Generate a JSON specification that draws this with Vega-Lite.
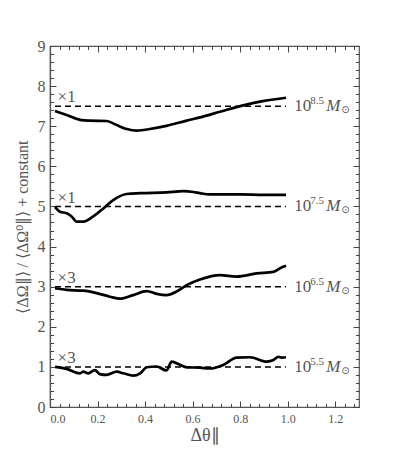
{
  "$schema": "https://vega.github.io/schema/vega-lite/v6.json",
  "width": 309,
  "height": 361,
  "autosize": {"type": "none"},
  "padding": {"left": 50, "top": 46, "right": 40, "bottom": 58},
  "background": "white",
  "config": {
    "view": {"stroke": "#555", "strokeWidth": 1.2},
    "font": "Liberation Serif",
    "axis": {"grid": false, "domainColor": "#555", "tickColor": "#444", "labelColor": "#555", "titleColor": "#555", "labelFont": "Liberation Serif", "titleFont": "Liberation Serif", "titleFontWeight": "normal", "domainWidth": 1.2, "tickWidth": 1}
  },
  "datasets": {
    "curves": [
      {"s": "8.5", "x": 0.021, "y": 7.38}, {"s": "8.5", "x": 0.07, "y": 7.28}, {"s": "8.5", "x": 0.126, "y": 7.16}, {"s": "8.5", "x": 0.168, "y": 7.14}, {"s": "8.5", "x": 0.238, "y": 7.13}, {"s": "8.5", "x": 0.28, "y": 7.03}, {"s": "8.5", "x": 0.323, "y": 6.93}, {"s": "8.5", "x": 0.365, "y": 6.89}, {"s": "8.5", "x": 0.42, "y": 6.93}, {"s": "8.5", "x": 0.49, "y": 7.01}, {"s": "8.5", "x": 0.575, "y": 7.14}, {"s": "8.5", "x": 0.631, "y": 7.22}, {"s": "8.5", "x": 0.715, "y": 7.36}, {"s": "8.5", "x": 0.813, "y": 7.52}, {"s": "8.5", "x": 0.9, "y": 7.63}, {"s": "8.5", "x": 0.993, "y": 7.71},
      {"s": "7.5", "x": 0.021, "y": 4.99}, {"s": "7.5", "x": 0.042, "y": 4.87}, {"s": "7.5", "x": 0.07, "y": 4.83}, {"s": "7.5", "x": 0.091, "y": 4.75}, {"s": "7.5", "x": 0.112, "y": 4.62}, {"s": "7.5", "x": 0.14, "y": 4.62}, {"s": "7.5", "x": 0.182, "y": 4.75}, {"s": "7.5", "x": 0.224, "y": 4.95}, {"s": "7.5", "x": 0.266, "y": 5.16}, {"s": "7.5", "x": 0.323, "y": 5.31}, {"s": "7.5", "x": 0.379, "y": 5.33}, {"s": "7.5", "x": 0.49, "y": 5.35}, {"s": "7.5", "x": 0.561, "y": 5.38}, {"s": "7.5", "x": 0.603, "y": 5.36}, {"s": "7.5", "x": 0.631, "y": 5.33}, {"s": "7.5", "x": 0.673, "y": 5.3}, {"s": "7.5", "x": 0.8, "y": 5.3}, {"s": "7.5", "x": 0.9, "y": 5.29}, {"s": "7.5", "x": 0.993, "y": 5.29},
      {"s": "6.5", "x": 0.021, "y": 2.96}, {"s": "6.5", "x": 0.07, "y": 2.92}, {"s": "6.5", "x": 0.14, "y": 2.9}, {"s": "6.5", "x": 0.196, "y": 2.84}, {"s": "6.5", "x": 0.252, "y": 2.75}, {"s": "6.5", "x": 0.294, "y": 2.7}, {"s": "6.5", "x": 0.35, "y": 2.79}, {"s": "6.5", "x": 0.407, "y": 2.89}, {"s": "6.5", "x": 0.449, "y": 2.82}, {"s": "6.5", "x": 0.49, "y": 2.79}, {"s": "6.5", "x": 0.533, "y": 2.88}, {"s": "6.5", "x": 0.575, "y": 3.04}, {"s": "6.5", "x": 0.631, "y": 3.18}, {"s": "6.5", "x": 0.715, "y": 3.29}, {"s": "6.5", "x": 0.785, "y": 3.25}, {"s": "6.5", "x": 0.87, "y": 3.33}, {"s": "6.5", "x": 0.94, "y": 3.37}, {"s": "6.5", "x": 0.968, "y": 3.46}, {"s": "6.5", "x": 0.993, "y": 3.52},
      {"s": "5.5", "x": 0.021, "y": 1.0}, {"s": "5.5", "x": 0.07, "y": 0.95}, {"s": "5.5", "x": 0.126, "y": 0.84}, {"s": "5.5", "x": 0.14, "y": 0.88}, {"s": "5.5", "x": 0.161, "y": 0.84}, {"s": "5.5", "x": 0.189, "y": 0.92}, {"s": "5.5", "x": 0.21, "y": 0.82}, {"s": "5.5", "x": 0.238, "y": 0.8}, {"s": "5.5", "x": 0.28, "y": 0.88}, {"s": "5.5", "x": 0.309, "y": 0.84}, {"s": "5.5", "x": 0.35, "y": 0.78}, {"s": "5.5", "x": 0.379, "y": 0.84}, {"s": "5.5", "x": 0.407, "y": 0.99}, {"s": "5.5", "x": 0.449, "y": 1.01}, {"s": "5.5", "x": 0.49, "y": 0.91}, {"s": "5.5", "x": 0.512, "y": 1.13}, {"s": "5.5", "x": 0.547, "y": 1.05}, {"s": "5.5", "x": 0.575, "y": 0.99}, {"s": "5.5", "x": 0.631, "y": 0.98}, {"s": "5.5", "x": 0.673, "y": 0.96}, {"s": "5.5", "x": 0.729, "y": 1.05}, {"s": "5.5", "x": 0.785, "y": 1.23}, {"s": "5.5", "x": 0.841, "y": 1.24}, {"s": "5.5", "x": 0.912, "y": 1.13}, {"s": "5.5", "x": 0.94, "y": 1.17}, {"s": "5.5", "x": 0.961, "y": 1.25}, {"s": "5.5", "x": 0.975, "y": 1.23}, {"s": "5.5", "x": 0.993, "y": 1.24}
    ],
    "levels": [
      {"s": "8.5", "level": 7.5, "x0": 0.021, "x1": 0.993, "mult": "×1", "ly": 7.72},
      {"s": "7.5", "level": 5.0, "x0": 0.021, "x1": 0.993, "mult": "×1", "ly": 5.22},
      {"s": "6.5", "level": 3.0, "x0": 0.021, "x1": 0.993, "mult": "×3", "ly": 3.22},
      {"s": "5.5", "level": 1.0, "x0": 0.021, "x1": 0.993, "mult": "×3", "ly": 1.22}
    ]
  },
  "resolve": {"axis": {"x": "independent", "y": "independent"}},
  "layer": [
    {
      "data": {"name": "curves"},
      "mark": {"type": "line", "color": "black", "strokeWidth": 2.7, "interpolate": "monotone"},
      "encoding": {
        "x": {"field": "x", "type": "quantitative", "scale": {"domain": [0, 1.3], "nice": false, "zero": false},
              "axis": {"orient": "bottom", "values": [0, 0.2, 0.4, 0.6, 0.8, 1.0, 1.2], "format": ".1f", "tickSize": -6, "labelPadding": 12, "labelFontSize": 12, "title": "Δθ∥", "titleFontSize": 18, "titlePadding": 2}},
        "y": {"field": "y", "type": "quantitative", "scale": {"domain": [0, 9], "nice": false, "zero": false},
              "axis": {"orient": "left", "values": [0, 1, 2, 3, 4, 5, 6, 7, 8, 9], "format": "d", "tickSize": -6, "labelPadding": 11, "labelFontSize": 16, "title": "⟨ΔΩ∥⟩ / ⟨ΔΩ⁰∥⟩ + constant", "titleFontSize": 16, "titlePadding": 7}},
        "detail": {"field": "s", "type": "nominal"}
      }
    },
    {
      "data": {"name": "levels"},
      "mark": {"type": "rule", "color": "black", "strokeWidth": 1.5, "strokeDash": [6, 4]},
      "encoding": {
        "x": {"field": "x0", "type": "quantitative", "axis": {"orient": "bottom", "values": [0.04, 0.08, 0.12, 0.16, 0.24, 0.28, 0.32, 0.36, 0.44, 0.48, 0.52, 0.56, 0.64, 0.68, 0.72, 0.76, 0.84, 0.88, 0.92, 0.96, 1.04, 1.08, 1.12, 1.16, 1.24, 1.28], "tickSize": -3.5, "labels": false, "domain": false, "title": null}},
        "x2": {"field": "x1"},
        "y": {"field": "level", "type": "quantitative", "axis": {"orient": "left", "values": [0.2, 0.4, 0.6, 0.8, 1.2, 1.4, 1.6, 1.8, 2.2, 2.4, 2.6, 2.8, 3.2, 3.4, 3.6, 3.8, 4.2, 4.4, 4.6, 4.8, 5.2, 5.4, 5.6, 5.8, 6.2, 6.4, 6.6, 6.8, 7.2, 7.4, 7.6, 7.8, 8.2, 8.4, 8.6, 8.8], "tickSize": -3.5, "labels": false, "domain": false, "title": null}}
      }
    },
    {
      "data": {"name": "levels"},
      "mark": {"type": "text", "align": "left", "baseline": "middle", "fontSize": 17, "color": "#555", "font": "Liberation Serif"},
      "encoding": {
        "x": {"datum": 0.032, "type": "quantitative", "axis": {"orient": "top", "values": [0, 0.2, 0.4, 0.6, 0.8, 1.0, 1.2], "tickSize": -6, "labels": false, "domain": false, "title": null}},
        "y": {"field": "ly", "type": "quantitative", "axis": {"orient": "right", "values": [0, 1, 2, 3, 4, 5, 6, 7, 8, 9], "tickSize": -6, "labels": false, "domain": false, "title": null}},
        "text": {"field": "mult"}
      }
    },
    {
      "data": {"name": "levels"},
      "mark": {"type": "text", "align": "left", "baseline": "middle", "fontSize": 17, "color": "#555", "font": "Liberation Serif"},
      "encoding": {
        "x": {"datum": 1.028, "type": "quantitative", "axis": {"orient": "top", "values": [0.04, 0.08, 0.12, 0.16, 0.24, 0.28, 0.32, 0.36, 0.44, 0.48, 0.52, 0.56, 0.64, 0.68, 0.72, 0.76, 0.84, 0.88, 0.92, 0.96, 1.04, 1.08, 1.12, 1.16, 1.24, 1.28], "tickSize": -3.5, "labels": false, "domain": false, "title": null}},
        "y": {"field": "level", "type": "quantitative", "axis": {"orient": "right", "values": [0.2, 0.4, 0.6, 0.8, 1.2, 1.4, 1.6, 1.8, 2.2, 2.4, 2.6, 2.8, 3.2, 3.4, 3.6, 3.8, 4.2, 4.4, 4.6, 4.8, 5.2, 5.4, 5.6, 5.8, 6.2, 6.4, 6.6, 6.8, 7.2, 7.4, 7.6, 7.8, 8.2, 8.4, 8.6, 8.8], "tickSize": -3.5, "labels": false, "domain": false, "title": null}},
        "text": {"value": "10"}
      }
    },
    {
      "data": {"name": "levels"},
      "mark": {"type": "text", "align": "left", "baseline": "middle", "fontSize": 11, "color": "#555", "font": "Liberation Serif", "dx": 16, "dy": -5},
      "encoding": {
        "x": {"datum": 1.028, "type": "quantitative", "axis": null},
        "y": {"field": "level", "type": "quantitative", "axis": null},
        "text": {"field": "s"}
      }
    },
    {
      "data": {"name": "levels"},
      "mark": {"type": "text", "align": "left", "baseline": "middle", "fontSize": 17, "fontStyle": "italic", "color": "#555", "font": "Liberation Serif", "dx": 32},
      "encoding": {
        "x": {"datum": 1.028, "type": "quantitative", "axis": null},
        "y": {"field": "level", "type": "quantitative", "axis": null},
        "text": {"value": "M"}
      }
    },
    {
      "data": {"name": "levels"},
      "mark": {"type": "text", "align": "left", "baseline": "middle", "fontSize": 10, "color": "#555", "font": "DejaVu Sans", "dx": 47, "dy": 4},
      "encoding": {
        "x": {"datum": 1.028, "type": "quantitative", "axis": null},
        "y": {"field": "level", "type": "quantitative", "axis": null},
        "text": {"value": "⊙"}
      }
    }
  ]
}
